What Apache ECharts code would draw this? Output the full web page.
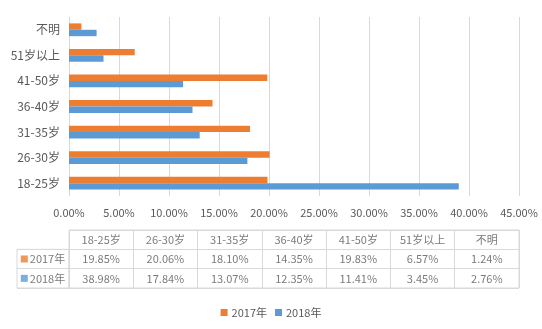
<!DOCTYPE html>
<html>
<head>
<meta charset="utf-8">
<script src="https://cdn.jsdelivr.net/npm/echarts@6/dist/echarts.min.js"></script>
<style>
html,body{margin:0;padding:0;background:#fff;}
#c{width:542px;height:329px;}
</style>
</head>
<body>
<div id="c"></div>
<script>
const categories = ['18-25岁','26-30岁','31-35岁','36-40岁','41-50岁','51岁以上','不明'];
const seriesNames = ['2017年','2018年'];
const values2017 = [19.85,20.06,18.10,14.35,19.83,6.57,1.24];
const values2018 = [38.98,17.84,13.07,12.35,11.41,3.45,2.76];
const xMin = 0, xMax = 45, xStep = 5;

const colors = ['#ED7D31','#5B9BD5'];
const textColor = '#595959';
const lineColor = '#D9D9D9';
const font = "'Noto Sans CJK SC', 'Microsoft YaHei', sans-serif";

const fmt = v => v.toFixed(2) + '%';

// table cells built from the data arrays
const tableRows = ['', seriesNames[0], seriesNames[1]];
const tableData = [];
categories.forEach((c, i) => {
  tableData.push([i, 0, c]);
  tableData.push([i, 1, fmt(values2017[i])]);
  tableData.push([i, 2, fmt(values2018[i])]);
});
const rowLabelData = seriesNames.map((n, i) => [0, i, n, i]);

const chart = echarts.init(document.getElementById('c'), null, {renderer: 'canvas'});
chart.setOption({
  animation: false,
  textStyle: {fontFamily: font, color: textColor},
  legend: {
    data: seriesNames,
    bottom: 6,
    left: 'center',
    itemWidth: 7,
    itemHeight: 7,
    itemGap: 8,
    icon: 'rect',
    textStyle: {fontSize: 11, color: textColor, fontFamily: font, padding: [0,0,0,-1]}
  },
  grid: [
    {left: 69, right: 23, top: 17, height: 179, containLabel: false},
    {left: 69, right: 23, top: 230, height: 58, show: true, borderColor: lineColor, borderWidth: 1},
    {left: 17, width: 52, top: 249.33, height: 38.67, show: true, borderColor: lineColor, borderWidth: 1}
  ],
  xAxis: [
    {
      gridIndex: 0, type: 'value', min: xMin, max: xMax, interval: xStep,
      axisLine: {show: false}, axisTick: {show: false},
      splitLine: {show: true, lineStyle: {color: lineColor, width: 1}},
      axisLabel: {formatter: v => v.toFixed(2) + '%', fontSize: 11, color: textColor, margin: 11, fontFamily: font}
    },
    {
      gridIndex: 1, type: 'category', data: categories, boundaryGap: true,
      axisLine: {show: false}, axisTick: {show: false}, axisLabel: {show: false},
      splitLine: {show: true, lineStyle: {color: lineColor, width: 1}}
    },
    {
      gridIndex: 2, type: 'category', data: [''], boundaryGap: true,
      axisLine: {show: false}, axisTick: {show: false}, axisLabel: {show: false},
      splitLine: {show: false}
    }
  ],
  yAxis: [
    {
      gridIndex: 0, type: 'category', data: categories,
      axisLine: {show: false}, axisTick: {show: false},
      axisLabel: {fontSize: 12, color: textColor, margin: 9, fontFamily: font}
    },
    {
      gridIndex: 1, type: 'category', data: tableRows, inverse: true, boundaryGap: true,
      axisLine: {show: false}, axisTick: {show: false}, axisLabel: {show: false},
      splitLine: {show: true, lineStyle: {color: lineColor, width: 1}}
    },
    {
      gridIndex: 2, type: 'category', data: seriesNames, inverse: true, boundaryGap: true,
      axisLine: {show: false}, axisTick: {show: false}, axisLabel: {show: false},
      splitLine: {show: true, lineStyle: {color: lineColor, width: 1}}
    }
  ],
  series: [
    {
      name: seriesNames[0], type: 'bar', xAxisIndex: 0, yAxisIndex: 0,
      data: values2017, itemStyle: {color: colors[0]},
      barCategoryGap: '50%', barGap: '0%'
    },
    {
      name: seriesNames[1], type: 'bar', xAxisIndex: 0, yAxisIndex: 0,
      data: values2018, itemStyle: {color: colors[1]},
      barCategoryGap: '50%', barGap: '0%'
    },
    {
      type: 'scatter', xAxisIndex: 1, yAxisIndex: 1, data: tableData,
      symbolSize: 0, silent: true,
      label: {show: true, position: 'inside', formatter: p => p.data[2],
        fontSize: 11, color: textColor, fontFamily: font}
    },
    {
      type: 'scatter', xAxisIndex: 2, yAxisIndex: 2, data: rowLabelData,
      symbolSize: 0, silent: true,
      label: {show: true, position: 'inside',
        formatter: p => '{s' + p.data[3] + '|}{t|' + p.data[2] + '}',
        rich: {
          s0: {width: 7, height: 7, backgroundColor: colors[0]},
          s1: {width: 7, height: 7, backgroundColor: colors[1]},
          t: {fontSize: 11, color: textColor, fontFamily: font, padding: [0,0,0,2]}
        }}
    }
  ]
});
</script>
</body>
</html>
